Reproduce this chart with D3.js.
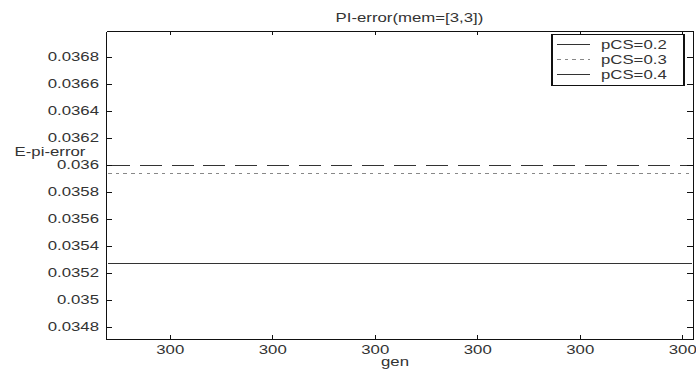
<!DOCTYPE html>
<html>
  <head>
    <meta charset="utf-8">
    <title>PI-error</title>
    <script src="https://d3js.org/d3.v7.min.js"></script>
    <style>
      body { margin: 0; background: #fff; }
      svg { display: block; }
      text { font-family: "Liberation Sans", Arial, sans-serif; fill: #333; }
    </style>
  </head>
  <body>
  <svg id="chart" width="696" height="376"></svg>
  <script>
    // the reference is stretched sideways, so draw in a narrower space and let the viewBox widen it
    var sx = 1.4
    var W = 696 / sx, H = 376

    // x axis: generations (all tick labels round to 300)
    var gen = [299.64, 299.7, 299.8, 299.9, 300.0, 300.1, 300.2, 300.21]
    var xTicks = [299.7, 299.8, 299.9, 300.0, 300.1, 300.2]
    var xTickLabels = ["300", "300", "300", "300", "300", "300"]

    // y axis
    var yTicks = [0.0348, 0.035, 0.0352, 0.0354, 0.0356, 0.0358, 0.036, 0.0362, 0.0364, 0.0366, 0.0368]
    var yTickLabels = ["0.0348", "0.035", "0.0352", "0.0354", "0.0356", "0.0358", "0.036", "0.0362", "0.0364", "0.0366", "0.0368"]

    // series (flat lines)
    var seriesNames = ["pCS=0.2", "pCS=0.3", "pCS=0.4"]
    var pcs02 = [0.035276, 0.035276, 0.035276, 0.035276, 0.035276, 0.035276, 0.035276, 0.035276]
    var pcs03 = [0.035939, 0.035939, 0.035939, 0.035939, 0.035939, 0.035939, 0.035939, 0.035939]
    var pcs04 = [0.036, 0.036, 0.036, 0.036, 0.036, 0.036, 0.036, 0.036]
    var seriesDash = ["none", "2.5,3", "15.7,7"]
    var seriesColor = ["#333", "#888", "#333"]

    var svg = d3.select("#chart")
      .attr("viewBox", "0 0 " + W + " " + H)
      .attr("preserveAspectRatio", "none")

    var marge = {top: 31, bottom: 376 - 339, left: 106 / sx, right: W - 693 / sx}
    var pw = W - marge.left - marge.right
    var ph = H - marge.top - marge.bottom

    var x = d3.scaleLinear().domain([299.638, 300.2107]).range([0, pw])
    var y = d3.scaleLinear().domain([0.034711, 0.036993]).range([ph, 0])

    var g = svg.append("g").attr("transform", "translate(" + marge.left + "," + marge.top + ")")

    // lines
    var series = [pcs02, pcs03, pcs04]
    var line = d3.line()
      .x(function(d, i) { return x(gen[i]) })
      .y(function(d) { return Math.round(y(d)) + 0.5 })

    g.selectAll(".series")
      .data(series)
      .enter()
      .append("path")
      .attr("class", "series")
      .attr("d", line)
      .attr("fill", "none")
      .attr("stroke", function(d, i) { return seriesColor[i] })
      .attr("stroke-width", 1)
      .attr("shape-rendering", "crispEdges")
      .attr("stroke-dasharray", function(d, i) { return seriesDash[i] })

    // axes, matlab style: ticks inward on all four sides
    function styleAxis(sel) {
      sel.select(".domain").attr("stroke", "#111").attr("stroke-width", 1).attr("shape-rendering", "crispEdges")
      sel.selectAll(".tick line").attr("stroke", "#111").attr("shape-rendering", "crispEdges")
      sel.selectAll(".tick text").attr("fill", "#333").style("font-size", "12px")
        .style("font-family", "'Liberation Sans', Arial, sans-serif")
    }

    g.append("g")
      .attr("transform", "translate(0," + ph + ")")
      .call(d3.axisBottom(x).tickValues(xTicks).tickSizeInner(-4).tickSizeOuter(0).tickPadding(6)
        .tickFormat(function(d, i) { return xTickLabels[i] }))
      .call(styleAxis)

    g.append("g")
      .call(d3.axisTop(x).tickValues(xTicks).tickSizeInner(-4).tickSizeOuter(0).tickFormat(""))
      .call(styleAxis)

    g.append("g")
      .call(d3.axisLeft(y).tickValues(yTicks).tickSizeInner(-4.3).tickSizeOuter(0).tickPadding(5)
        .tickFormat(function(d, i) { return yTickLabels[i] }))
      .call(styleAxis)

    g.append("g")
      .attr("transform", "translate(" + pw + ",0)")
      .call(d3.axisRight(y).tickValues(yTicks).tickSizeInner(-4.3).tickSizeOuter(0).tickFormat(""))
      .call(styleAxis)

    // titles
    svg.append("text")
      .attr("x", 409.5 / sx)
      .attr("y", 22)
      .attr("text-anchor", "middle")
      .style("font-size", "12px")
      .text("PI-error(mem=[3,3])")

    svg.append("text")
      .attr("x", 50 / sx)
      .attr("y", 156)
      .attr("text-anchor", "middle")
      .style("font-size", "12px")
      .text("E-pi-error")

    svg.append("text")
      .attr("x", 395 / sx)
      .attr("y", 366)
      .attr("text-anchor", "middle")
      .style("font-size", "12px")
      .text("gen")

    // legend
    var legend = svg.append("g")
    legend.append("rect")
      .attr("x", 552 / sx)
      .attr("y", 34.5)
      .attr("width", (684 - 552) / sx)
      .attr("height", 51)
      .attr("fill", "#fff")
      .attr("stroke", "#111")
      .attr("stroke-width", 1)
      .attr("shape-rendering", "crispEdges")

    var rows = legend.selectAll(".row")
      .data(seriesNames)
      .enter()
      .append("g")
      .attr("transform", function(d, i) { return "translate(0," + (44.5 + i * 15) + ")" })

    rows.append("line")
      .attr("x1", 557 / sx)
      .attr("x2", 590 / sx)
      .attr("stroke", function(d, i) { return seriesColor[i] })
      .attr("stroke-width", 1)
      .attr("shape-rendering", "crispEdges")
      .attr("stroke-dasharray", function(d, i) { return i == 1 ? "2.5,3" : "none" })

    rows.append("text")
      .attr("x", 601 / sx)
      .attr("dy", "0.35em")
      .style("font-size", "12px")
      .text(function(d) { return d })
  </script>
  </body>
</html>
